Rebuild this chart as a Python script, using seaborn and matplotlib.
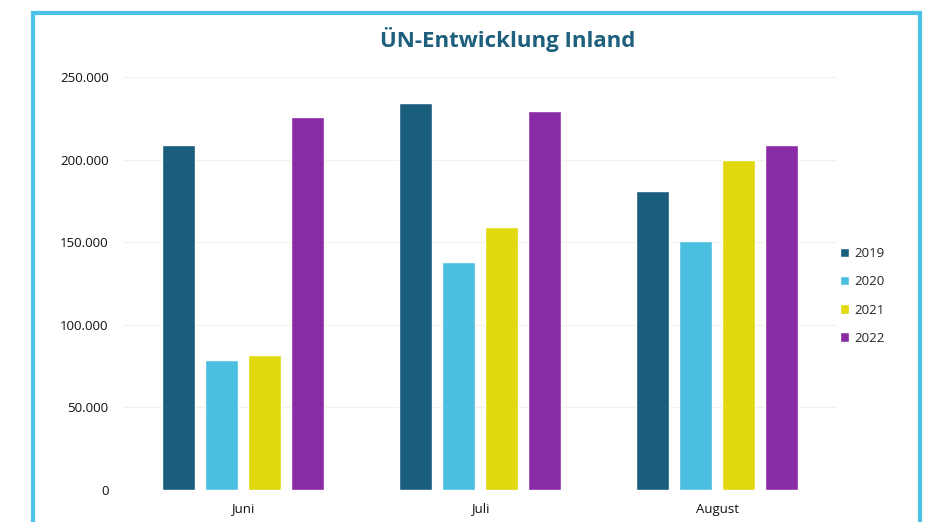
import pandas as pd
import matplotlib.pyplot as plt
import matplotlib.ticker as mticker
from matplotlib.patches import Rectangle
import seaborn as sns

# Daten
monate = ["Juni", "Juli", "August"]
jahre = ["2019", "2020", "2021", "2022"]
werte_2019 = [209000, 234000, 181000]
werte_2020 = [78500, 138000, 151000]
werte_2021 = [82000, 159500, 200000]
werte_2022 = [226000, 229500, 209000]

farben = {"2019": "#1b5d7c", "2020": "#4bbfdf", "2021": "#e1d90e", "2022": "#8a2ba6"}

df = pd.DataFrame({
    "Monat": monate * 4,
    "Jahr": [j for j in jahre for _ in monate],
    "Wert": werte_2019 + werte_2020 + werte_2021 + werte_2022,
})

sns.set_style("white")
plt.rcParams["font.family"] = ["Open Sans", "DejaVu Sans"]

fig = plt.figure(figsize=(9.36, 5.22), dpi=100)
ax = fig.add_axes([0.1325, 0.0613, 0.7605, 0.7912])

sns.barplot(data=df, x="Monat", y="Wert", hue="Jahr", order=monate, hue_order=jahre,
            palette=farben, width=0.724, gap=0.23, saturation=1, ax=ax)

ax.set_ylim(0, 250000)
ax.set_xlim(-0.5, 2.5)
ax.yaxis.set_major_locator(mticker.MultipleLocator(50000))
ax.yaxis.set_major_formatter(mticker.FuncFormatter(lambda v, p: f"{int(v):,}".replace(",", ".")))
ax.grid(axis="y", color="#f4f0ec", linewidth=0.9)
ax.set_axisbelow(True)
sns.despine(ax=ax, left=True, bottom=True)
ax.set_xlabel("")
ax.set_ylabel("")
ax.tick_params(axis="both", length=0, labelsize=9.5, colors="#111111")
ax.tick_params(axis="y", pad=11)
ax.tick_params(axis="x", pad=9)

ax.legend(loc="center left", bbox_to_anchor=(0.885, 0.433), bbox_transform=fig.transFigure,
          frameon=False, fontsize=9.5, handlelength=0.7, handleheight=0.7,
          handletextpad=0.4, labelspacing=1.15)

fig.text(0.542, 0.925, "ÜN-Entwicklung Inland", ha="center", va="center",
         fontsize=16, fontweight="bold", color="#1d5f7c")

# hellblauer Rahmen
fig.patches.append(Rectangle((0.035, -0.05), 0.948, 1.026, transform=fig.transFigure,
                             fill=False, edgecolor="#4cc2e7", linewidth=3))

plt.savefig("out.png", dpi=100)
